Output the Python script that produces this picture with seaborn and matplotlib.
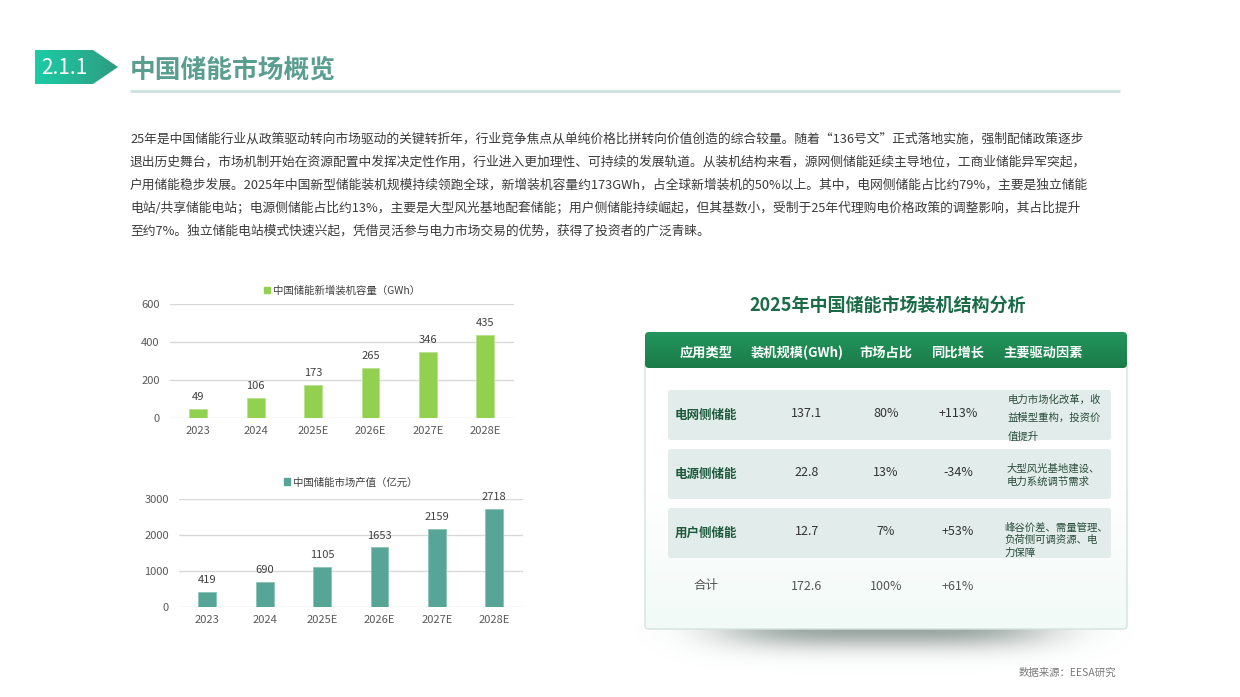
import numpy as np
import pandas as pd
import seaborn as sns
import matplotlib.pyplot as plt
from matplotlib.patches import Polygon, FancyBboxPatch, Patch
from matplotlib.colors import LinearSegmentedColormap

# --- dados ---
anos = ['2023', '2024', '2025E', '2026E', '2027E', '2028E']
capacidade = [49, 106, 173, 265, 346, 435]        # GWh
producao = [419, 690, 1105, 1653, 2159, 2718]     # 亿元

cabecalho = ['应用类型', '装机规模(GWh)', '市场占比', '同比增长', '主要驱动因素']
tipos = ['电网侧储能', '电源侧储能', '用户侧储能']
escala = ['137.1', '22.8', '12.7']
participacao = ['80%', '13%', '7%']
crescimento = ['+113%', '-34%', '+53%']
fatores = [['电力市场化改革，收', '益模型重构，投资价', '值提升'],
           ['大型风光基地建设、', '电力系统调节需求'],
           ['峰谷价差、需量管理、', '负荷侧可调资源、电', '力保障']]
total = ['合计', '172.6', '100%', '+61%']

paragrafo = [
    '25年是中国储能行业从政策驱动转向市场驱动的关键转折年，行业竞争焦点从单纯价格比拼转向价值创造的综合较量。随着“136号文”正式落地实施，强制配储政策逐步',
    '退出历史舞台，市场机制开始在资源配置中发挥决定性作用，行业进入更加理性、可持续的发展轨道。从装机结构来看，源网侧储能延续主导地位，工商业储能异军突起，',
    '户用储能稳步发展。2025年中国新型储能装机规模持续领跑全球，新增装机容量约173GWh，占全球新增装机的50%以上。其中，电网侧储能占比约79%，主要是独立储能',
    '电站/共享储能电站；电源侧储能占比约13%，主要是大型风光基地配套储能；用户侧储能持续崛起，但其基数小，受制于25年代理购电价格政策的调整影响，其占比提升',
    '至约7%。独立储能电站模式快速兴起，凭借灵活参与电力市场交易的优势，获得了投资者的广泛青睐。',
]

sns.set_theme(style='white')
plt.rcParams['font.family'] = ['Noto Sans CJK SC', 'DejaVu Sans']

W, H = 1240, 697
fig = plt.figure(figsize=(W / 100, H / 100), dpi=100)

# fundo em coordenadas de pixel
bg = fig.add_axes([0, 0, 1, 1])
bg.set_xlim(0, W)
bg.set_ylim(H, 0)
bg.axis('off')


def px_axes(x0, y0, x1, y1):
    return fig.add_axes([x0 / W, 1 - y1 / H, (x1 - x0) / W, (y1 - y0) / H])


# --- cabeçalho da seção ---
badge = Polygon([(35, 50), (93, 50), (118, 67), (93, 84), (35, 84)], closed=True,
                facecolor='none', edgecolor='none')
bg.add_patch(badge)
grad = np.linspace(0, 1, 100).reshape(1, -1)
cm_badge = LinearSegmentedColormap.from_list('b', ['#1ccca6', '#2e9c80'])
im = bg.imshow(grad, cmap=cm_badge, extent=(35, 118, 84, 50), aspect='auto')
im.set_clip_path(badge)
bg.text(64, 68, '2.1.1', color='white', fontsize=15, ha='center', va='center')
bg.text(130, 70, '中国储能市场概览', color='#5a9e8f', fontsize=18.5, fontweight='bold',
        ha='left', va='center')
bg.plot([130, 1120], [91, 91], color='#cfe3e0', lw=2.2, solid_capstyle='butt')

for i, linha in enumerate(paragrafo):
    bg.text(130, 139 + i * 23.1, linha, color='#3b3b3b', fontsize=9.2, ha='left', va='center')

# --- gráfico 1: capacidade ---
cor1 = '#92d050'
ax1 = px_axes(169.5, 304, 514, 418)
df1 = pd.DataFrame({'ano': anos, 'valor': capacidade})
sns.barplot(data=df1, x='ano', y='valor', color=cor1, width=0.31, saturation=1,
            edgecolor='#b8e28e', linewidth=0.6, ax=ax1, zorder=3)
ax1.set_ylim(0, 600)
ax1.set_yticks([0, 200, 400, 600])
ax1.bar_label(ax1.containers[0], padding=5, fontsize=8, color='#404040')
ax1.legend(handles=[Patch(color=cor1)], labels=['中国储能新增装机容量（GWh）'],
           loc='lower center', bbox_to_anchor=(0.5, 0.99), frameon=False, fontsize=7.5,
           handlelength=0.6, handleheight=0.6, handletextpad=0.3, labelcolor='#404040')

# --- gráfico 2: valor de mercado ---
cor2 = '#56a596'
ax2 = px_axes(178.5, 499, 523, 607)
df2 = pd.DataFrame({'ano': anos, 'valor': producao})
sns.barplot(data=df2, x='ano', y='valor', color=cor2, width=0.31, saturation=1,
            edgecolor='#8cc4b8', linewidth=0.6, ax=ax2, zorder=3)
ax2.set_ylim(0, 3000)
ax2.set_yticks([0, 1000, 2000, 3000])
ax2.bar_label(ax2.containers[0], padding=5, fontsize=8, color='#404040')
ax2.legend(handles=[Patch(color=cor2)], labels=['中国储能市场产值（亿元）'],
           loc='lower center', bbox_to_anchor=(0.5, 1.02), frameon=False, fontsize=7.5,
           handlelength=0.6, handleheight=0.6, handletextpad=0.3, labelcolor='#404040')

for ax in (ax1, ax2):
    ax.set_facecolor('none')
    ax.set_xlim(-0.5, 5.5)
    ax.set_xlabel('')
    ax.set_ylabel('')
    sns.despine(ax=ax, left=True, bottom=True)
    ax.yaxis.grid(True, color='#d9d9d9', lw=1)
    ax.set_axisbelow(True)
    ax.tick_params(axis='both', length=0, labelsize=8, labelcolor='#595959')
    ax.tick_params(axis='y', pad=7)
    ax.tick_params(axis='x', pad=6)
    for t in ax.texts:
        t.set_clip_on(False)

# --- tabela ---
bg.text(888, 305, '2025年中国储能市场装机结构分析', color='#1b6b47', fontsize=13,
        fontweight='bold', ha='center', va='center')

# sombra sob o quadro (esmaece nas bordas)
xs = np.linspace(620, 1150, 400)
ys = np.linspace(622, 680, 100)
gx = np.exp(-((xs - 885) / 165) ** 4)
gy = np.exp(-((ys - 628) / 20) ** 2)
alpha = np.outer(gy, gx) * 0.8
rgba = np.zeros((len(ys), len(xs), 4))
rgba[..., 0] = 0.50
rgba[..., 1] = 0.56
rgba[..., 2] = 0.54
rgba[..., 3] = alpha
bg.imshow(rgba, extent=(620, 1150, 680, 622), aspect='auto', zorder=1, origin='upper')

corpo = FancyBboxPatch((645, 360), 482, 269, boxstyle='round,pad=0,rounding_size=4',
                       facecolor='none', edgecolor='none', zorder=2)
bg.add_patch(corpo)
vgrad = np.linspace(0, 1, 100).reshape(-1, 1)
cm_corpo = LinearSegmentedColormap.from_list('c', ['#ffffff', '#ffffff', '#f1faf7'])
im2 = bg.imshow(vgrad, cmap=cm_corpo, extent=(645, 1127, 629, 360), aspect='auto',
                origin='upper', zorder=2)
im2.set_clip_path(corpo)
bg.add_patch(FancyBboxPatch((645, 360), 482, 269, boxstyle='round,pad=0,rounding_size=4',
                            facecolor='none', edgecolor='#d3e3de', lw=1, zorder=3))

topo = FancyBboxPatch((645, 332), 482, 36, boxstyle='round,pad=0,rounding_size=4',
                      facecolor='none', edgecolor='none', zorder=4)
bg.add_patch(topo)
cm_topo = LinearSegmentedColormap.from_list('t', ['#23955c', '#1b7c49'])
im3 = bg.imshow(vgrad, cmap=cm_topo, extent=(645, 1127, 368, 332), aspect='auto',
                origin='upper', zorder=4)
im3.set_clip_path(topo)

x_cab = [706, 797, 886, 958, 1043]
for x, c in zip(x_cab, cabecalho):
    bg.text(x, 353, c, color='white', fontsize=9.5, fontweight='bold',
            ha='center', va='center', zorder=5)

col_x = [706, 807, 886, 958]
linhas_y = [(390, 440), (449, 499), (508, 558)]
fator_y = [(399.5, 18.5), (468.5, 13.5), (527.5, 12.8)]
fator_x = [1008, 1007, 1004]
for i in range(len(tipos)):
    y0, y1 = linhas_y[i]
    bg.add_patch(FancyBboxPatch((668, y0), 443, y1 - y0, boxstyle='round,pad=0,rounding_size=3',
                                facecolor='#e2ecea', edgecolor='none', zorder=5))
    yc = (y0 + y1) / 2 - 1.5
    bg.text(col_x[0], yc + 2, tipos[i], color='#1d5a3c', fontsize=9, fontweight='bold',
            ha='center', va='center', zorder=6)
    for x, v in zip(col_x[1:], [escala[i], participacao[i], crescimento[i]]):
        bg.text(x, yc, v, color='#333333', fontsize=9, ha='center', va='center', zorder=6)
    ys0, dy = fator_y[i]
    for j, f in enumerate(fatores[i]):
        bg.text(fator_x[i], ys0 + j * dy, f, color='#2a4d3c', fontsize=7.5,
                ha='left', va='center', zorder=6)

for x, v in zip(col_x, total):
    bg.text(x, 586, v, color='#555555', fontsize=9, ha='center', va='center', zorder=6)

bg.text(1116, 673, '数据来源：EESA研究', color='#7a7a7a', fontsize=7.5,
        ha='right', va='center')

fig.savefig('out.png', dpi=100)
